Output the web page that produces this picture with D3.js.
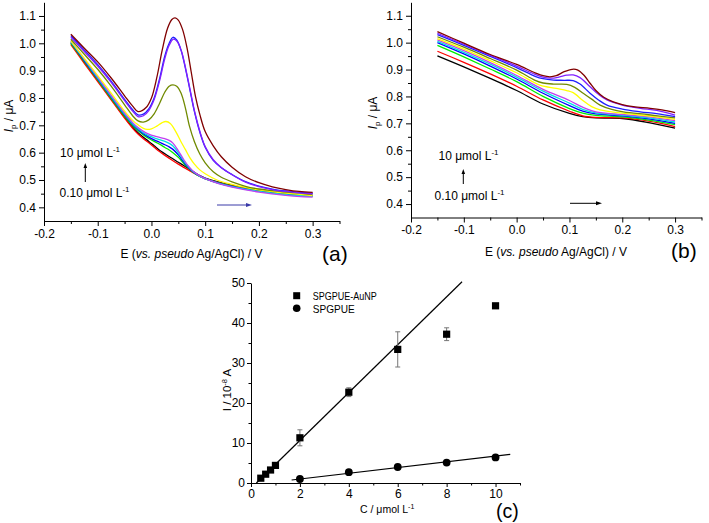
<!DOCTYPE html>
<html><head><meta charset="utf-8">
<script src="https://cdn.jsdelivr.net/npm/d3@7"></script>
<style>body{margin:0;background:#fff}svg{display:block}</style>
</head><body>
<svg id="chart" width="709" height="523"></svg>
<script>
// ---------------- DATA ----------------
const curveColors = ["#000000","#ff0000","#00ee00","#0000ff","#00e0e0","#c040f0","#ffff00","#708a00","#1f1fff","#8020ff","#800000"];
const concLabels = ["10 μmol L", "0.10 μmol L"];

// Panel (a): SPGPUE-AuNP DPV curves [E (V), I (μA)]
const aBlack = [[-0.15,1.0],[-0.125,0.932],[-0.1,0.864],[-0.075,0.797],[-0.05,0.73],[-0.035,0.693],[-0.025,0.673],[-0.015,0.656],[-0.005,0.641],[0.005,0.625],[0.015,0.609],[0.025,0.596],[0.035,0.583],[0.05,0.565],[0.06,0.553],[0.07,0.54],[0.08,0.528],[0.09,0.516],[0.1,0.507],[0.125,0.492],[0.15,0.48],[0.2,0.462],[0.25,0.45],[0.3,0.445]];
const aRed = [[-0.15,0.995],[-0.125,0.927],[-0.1,0.86],[-0.075,0.793],[-0.05,0.726],[-0.035,0.689],[-0.025,0.668],[-0.015,0.651],[-0.005,0.636],[0.005,0.62],[0.015,0.604],[0.025,0.59],[0.035,0.577],[0.05,0.558],[0.06,0.546],[0.07,0.535],[0.08,0.524],[0.09,0.514],[0.1,0.505],[0.125,0.49],[0.15,0.478],[0.2,0.461],[0.25,0.449],[0.3,0.443]];
const aGreen = [[-0.15,1.0],[-0.125,0.933],[-0.1,0.866],[-0.075,0.799],[-0.05,0.734],[-0.035,0.699],[-0.025,0.681],[-0.015,0.665],[-0.005,0.652],[0.005,0.641],[0.015,0.631],[0.025,0.619],[0.033,0.61],[0.04,0.6],[0.05,0.583],[0.06,0.561],[0.07,0.541],[0.08,0.525],[0.09,0.513],[0.1,0.504],[0.125,0.489],[0.15,0.477],[0.2,0.46],[0.25,0.448],[0.3,0.442]];
const aBlue = [[-0.15,1.004],[-0.125,0.937],[-0.1,0.87],[-0.075,0.803],[-0.05,0.738],[-0.035,0.703],[-0.025,0.685],[-0.015,0.669],[-0.005,0.657],[0.005,0.647],[0.015,0.638],[0.025,0.629],[0.033,0.621],[0.04,0.612],[0.05,0.592],[0.06,0.566],[0.07,0.543],[0.08,0.526],[0.09,0.514],[0.1,0.505],[0.125,0.489],[0.15,0.477],[0.2,0.459],[0.25,0.447],[0.3,0.441]];
const aCyan = [[-0.15,1.006],[-0.125,0.94],[-0.1,0.873],[-0.075,0.806],[-0.05,0.741],[-0.035,0.706],[-0.025,0.688],[-0.015,0.673],[-0.005,0.662],[0.005,0.654],[0.015,0.648],[0.025,0.641],[0.033,0.634],[0.04,0.624],[0.05,0.6],[0.06,0.571],[0.07,0.546],[0.08,0.527],[0.09,0.514],[0.1,0.505],[0.125,0.488],[0.15,0.476],[0.2,0.458],[0.25,0.446],[0.3,0.44]];
const aMagenta = [[-0.15,1.01],[-0.125,0.943],[-0.1,0.877],[-0.075,0.81],[-0.05,0.745],[-0.035,0.71],[-0.025,0.692],[-0.015,0.678],[-0.005,0.668],[0.005,0.661],[0.015,0.656],[0.025,0.651],[0.033,0.645],[0.04,0.635],[0.05,0.607],[0.06,0.575],[0.07,0.548],[0.08,0.528],[0.09,0.515],[0.1,0.505],[0.125,0.487],[0.15,0.474],[0.2,0.456],[0.25,0.444],[0.3,0.437]];
const aYellow = [[-0.15,1.008],[-0.125,0.945],[-0.1,0.882],[-0.075,0.818],[-0.05,0.752],[-0.035,0.718],[-0.025,0.702],[-0.015,0.689],[-0.008,0.685],[0.0,0.687],[0.01,0.697],[0.02,0.71],[0.027,0.714],[0.035,0.707],[0.045,0.678],[0.055,0.64],[0.063,0.612],[0.072,0.58],[0.08,0.558],[0.09,0.537],[0.1,0.523],[0.122,0.5],[0.15,0.484],[0.177,0.472],[0.2,0.464],[0.25,0.452],[0.3,0.443]];
const aOlive = [[-0.15,1.015],[-0.125,0.96],[-0.1,0.905],[-0.075,0.843],[-0.05,0.775],[-0.035,0.735],[-0.025,0.716],[-0.015,0.712],[-0.005,0.72],[0.005,0.742],[0.015,0.78],[0.025,0.822],[0.033,0.843],[0.04,0.848],[0.047,0.843],[0.055,0.818],[0.063,0.765],[0.071,0.695],[0.08,0.64],[0.09,0.595],[0.1,0.563],[0.115,0.53],[0.13,0.51],[0.15,0.493],[0.175,0.477],[0.2,0.467],[0.225,0.461],[0.25,0.456],[0.275,0.453],[0.3,0.45]];
const aNavy = [[-0.15,1.028],[-0.125,0.975],[-0.1,0.922],[-0.075,0.862],[-0.05,0.795],[-0.035,0.757],[-0.025,0.738],[-0.015,0.741],[-0.005,0.76],[0.005,0.8],[0.015,0.87],[0.025,0.955],[0.033,1.0],[0.04,1.022],[0.047,1.012],[0.055,0.975],[0.063,0.91],[0.071,0.835],[0.08,0.75],[0.09,0.675],[0.1,0.62],[0.115,0.572],[0.13,0.545],[0.15,0.52],[0.175,0.494],[0.2,0.478],[0.225,0.467],[0.25,0.46],[0.275,0.455],[0.3,0.452]];
const aPurple = [[-0.15,1.022],[-0.125,0.97],[-0.1,0.917],[-0.075,0.857],[-0.05,0.79],[-0.035,0.752],[-0.025,0.732],[-0.015,0.735],[-0.005,0.754],[0.005,0.794],[0.015,0.862],[0.025,0.945],[0.033,0.993],[0.041,1.015],[0.048,1.006],[0.056,0.97],[0.064,0.905],[0.072,0.83],[0.081,0.745],[0.091,0.672],[0.1,0.622],[0.115,0.574],[0.13,0.546],[0.15,0.519],[0.175,0.492],[0.2,0.476],[0.225,0.465],[0.25,0.458],[0.275,0.453],[0.3,0.45]];
const aWine = [[-0.15,1.033],[-0.125,0.982],[-0.1,0.932],[-0.075,0.873],[-0.05,0.808],[-0.035,0.77],[-0.025,0.75],[-0.01,0.765],[0.0,0.8],[0.01,0.875],[0.02,0.975],[0.03,1.055],[0.038,1.087],[0.044,1.093],[0.05,1.085],[0.058,1.05],[0.066,0.985],[0.074,0.895],[0.082,0.805],[0.09,0.74],[0.1,0.677],[0.115,0.625],[0.13,0.585],[0.15,0.547],[0.175,0.512],[0.2,0.49],[0.225,0.475],[0.25,0.465],[0.275,0.458],[0.3,0.455]];

// Panel (b): SPGPUE DPV curves [E (V), I (μA)]
const bBlack = [[-0.15,0.951],[-0.1,0.91],[-0.05,0.867],[0,0.822],[0.05,0.772],[0.1,0.737],[0.125,0.725],[0.15,0.72],[0.2,0.718],[0.25,0.703],[0.3,0.682]];
const bRed = [[-0.15,0.968],[-0.1,0.927],[-0.05,0.884],[0,0.838],[0.05,0.787],[0.1,0.745],[0.125,0.728],[0.15,0.722],[0.2,0.72],[0.25,0.708],[0.3,0.688]];
const bGreen = [[-0.15,0.99],[-0.1,0.947],[-0.05,0.902],[0,0.855],[0.05,0.8],[0.1,0.755],[0.125,0.738],[0.15,0.73],[0.2,0.724],[0.25,0.712],[0.3,0.695]];
const bBlue = [[-0.15,1.0],[-0.1,0.958],[-0.05,0.913],[0,0.865],[0.05,0.812],[0.1,0.766],[0.125,0.745],[0.15,0.735],[0.2,0.728],[0.25,0.717],[0.3,0.7]];
const bCyan = [[-0.15,1.005],[-0.1,0.964],[-0.05,0.92],[0,0.872],[0.05,0.82],[0.1,0.775],[0.125,0.752],[0.15,0.739],[0.2,0.731],[0.25,0.72],[0.3,0.705]];
const bMagenta = [[-0.15,1.01],[-0.1,0.97],[-0.05,0.926],[0,0.878],[0.05,0.826],[0.1,0.785],[0.125,0.76],[0.15,0.743],[0.2,0.733],[0.25,0.724],[0.3,0.71]];
const bYellow = [[-0.15,1.015],[-0.1,0.976],[-0.05,0.933],[0,0.888],[0.044,0.842],[0.075,0.83],[0.095,0.822],[0.107,0.814],[0.126,0.784],[0.142,0.762],[0.158,0.75],[0.2,0.738],[0.234,0.731],[0.3,0.715]];
const bOlive = [[-0.15,1.022],[-0.1,0.983],[-0.05,0.941],[0,0.898],[0.035,0.86],[0.05,0.85],[0.07,0.846],[0.095,0.845],[0.11,0.834],[0.126,0.812],[0.142,0.79],[0.158,0.768],[0.18,0.752],[0.202,0.743],[0.25,0.732],[0.3,0.72]];
const bNavy = [[-0.15,1.03],[-0.1,0.99],[-0.05,0.949],[0,0.907],[0.035,0.875],[0.05,0.866],[0.07,0.861],[0.09,0.86],[0.107,0.859],[0.12,0.846],[0.139,0.812],[0.155,0.787],[0.171,0.768],[0.2,0.753],[0.234,0.743],[0.265,0.736],[0.3,0.725]];
const bPurple = [[-0.15,1.035],[-0.1,0.994],[-0.05,0.953],[0,0.913],[0.035,0.882],[0.05,0.872],[0.065,0.868],[0.08,0.872],[0.095,0.879],[0.107,0.88],[0.12,0.87],[0.139,0.836],[0.155,0.808],[0.171,0.787],[0.2,0.768],[0.234,0.756],[0.265,0.748],[0.3,0.731]];
const bWine = [[-0.15,1.041],[-0.1,0.998],[-0.05,0.956],[0,0.919],[0.035,0.888],[0.05,0.877],[0.063,0.873],[0.075,0.877],[0.09,0.892],[0.105,0.901],[0.115,0.899],[0.128,0.878],[0.139,0.849],[0.15,0.822],[0.165,0.797],[0.183,0.78],[0.2,0.77],[0.221,0.762],[0.253,0.756],[0.275,0.75],[0.3,0.74]];

// Panel (c): calibration
const cConcAu = [0.4,0.6,0.8,1,2,4,6,8,10];
const cCurAu = [1.2,2.2,3.25,4.4,11.3,22.7,33.4,37.2,44.3];
const cErrAu = [0.3,0.3,0.3,0.4,2.0,1.1,4.4,1.6,0.4];
const cConcBare = [2,4,6,8,10];
const cCurBare = [1.0,2.7,4.0,5.1,6.4];
const cFitAu = [[0.22,0],[8.63,50.3]];
const cFitBare = [[1.66,0.75],[10.6,7.17]];
const legendNames = ["SPGPUE-AuNP","SPGPUE"];

// Axis ticks
const eMajor = [-0.2,-0.1,0.0,0.1,0.2,0.3];
const eMinor = [-0.15,-0.05,0.05,0.15,0.25,0.35];
const iMajor = [0.4,0.5,0.6,0.7,0.8,0.9,1.0,1.1];
const iMinor = [0.45,0.55,0.65,0.75,0.85,0.95,1.05];
const cxMajor = [0,2,4,6,8,10];
const cxMinor = [1,3,5,7,9,11];
const cyMajor = [0,10,20,30,40,50];
const cyMinor = [5,15,25,35,45];

// ---------------- DRAW ----------------
const FONT = '"Liberation Sans", Arial, Helvetica, sans-serif';
const svg = d3.select("#chart");
svg.append("rect").attr("width",709).attr("height",523).attr("fill","#fff");
const fmt1 = d => d3.format(".1f")(d).replace("\u2212","-");

function axes(g, scale, orient, major, minor, fmt, majLen, minLen, pad, fs) {
  const mk = orient === "bottom" ? d3.axisBottom : d3.axisLeft;
  g.append("g").call(mk(scale).tickValues(major).tickSize(majLen).tickPadding(pad).tickSizeOuter(0).tickFormat(fmt));
  const gn = g.append("g").call(mk(scale).tickValues(minor).tickSize(minLen).tickFormat(""));
  gn.select(".domain").remove();
  g.selectAll("g").attr("font-family", FONT).attr("font-size", fs);
  g.selectAll("line,path").attr("stroke","#000").attr("stroke-width",1);
  g.selectAll("text").attr("fill","#000");
}

function arrowV(x, y1, y2, color) {
  svg.append("line").attr("x1",x).attr("x2",x).attr("y1",y1).attr("y2",y2+3).attr("stroke",color).attr("stroke-width",1);
  svg.append("path").attr("d",`M${x},${y2} L${x-1.8},${y2+5} L${x+1.8},${y2+5} Z`).attr("fill",color);
}
function arrowH(x1, x2, y, color) {
  svg.append("line").attr("x1",x1).attr("x2",x2-3).attr("y1",y).attr("y2",y).attr("stroke",color).attr("stroke-width",1);
  svg.append("path").attr("d",`M${x2},${y} L${x2-6},${y-2} L${x2-6},${y+2} Z`).attr("fill",color);
}
function concText(x, y, s) {
  const t = svg.append("text").attr("x",x).attr("y",y).attr("font-family",FONT).attr("font-size",12).attr("fill","#000");
  t.append("tspan").text(s);
  t.append("tspan").attr("font-size",8).attr("dy",-5).text("-1");
}
function eLabel(cx, y) {
  const t = svg.append("text").attr("x",cx).attr("y",y).attr("text-anchor","middle").attr("font-family",FONT).attr("font-size",12).attr("fill","#000");
  t.append("tspan").text("E (");
  t.append("tspan").attr("font-style","italic").text("vs. pseudo");
  t.append("tspan").text(" Ag/AgCl) / V");
}
function ipLabel(x, cy) {
  const t = svg.append("text").attr("transform",`translate(${x},${cy}) rotate(-90)`).attr("text-anchor","middle").attr("font-family",FONT).attr("font-size",12).attr("fill","#000");
  t.append("tspan").attr("font-style","italic").text("I");
  t.append("tspan").attr("font-size",8).attr("dy",3).text("p");
  t.append("tspan").attr("dy",-3).text(" / μA");
}
function panelLetter(x, y, s, fs) {
  svg.append("text").attr("x",x).attr("y",y).attr("font-family",FONT).attr("font-size",fs).attr("fill","#000").text(s);
}

function dpvPanel(curves, xr, yr) {
  const x = d3.scaleLinear([-0.2,0.35], xr);
  const y = d3.scaleLinear([0.35,1.15], yr);
  const line = d3.line().x(d=>x(d[0])).y(d=>y(d[1])).curve(d3.curveCatmullRom.alpha(0.5));
  const g = svg.append("g");
  curves.forEach((c,i) => {
    g.append("path").attr("d", line(c)).attr("fill","none").attr("stroke", curveColors[i]).attr("stroke-width",1.3);
  });
  axes(svg.append("g").attr("transform",`translate(0,${yr[0]})`), x, "bottom", eMajor, eMinor, fmt1, 5, 3, 3, 12);
  axes(svg.append("g").attr("transform",`translate(${xr[0]},0)`), y, "left", iMajor, iMinor, fmt1, 5, 3, 3, 12);
}

// Panel (a)
dpvPanel([aBlack,aRed,aGreen,aBlue,aCyan,aMagenta,aYellow,aOlive,aNavy,aPurple,aWine], [44,339.5], [221,2.3]);
eLabel(191.5, 258);
ipLabel(12.5, 116);
concText(60, 157, concLabels[0]);
concText(59.5, 197, concLabels[1]);
arrowV(85.3, 182, 163, "#000");
arrowH(217, 252, 205, "#3a3aa8");
panelLetter(322, 260.5, "(a)", 21);

// Panel (b)
dpvPanel([bBlack,bRed,bGreen,bBlue,bCyan,bMagenta,bYellow,bOlive,bNavy,bPurple,bWine], [411,701.5], [217.5,2.3]);
eLabel(556, 256);
ipLabel(377, 113);
concText(438.5, 160, concLabels[0]);
concText(434.5, 200, concLabels[1]);
arrowV(463.3, 184, 169, "#000");
arrowH(570, 602, 203.3, "#000");
panelLetter(671, 258, "(b)", 21);

// Panel (c)
const cx = d3.scaleLinear([0,11],[251,520]);
const cy = d3.scaleLinear([0,50],[483,283]);
const fitLine = d3.line().x(d=>cx(d[0])).y(d=>cy(d[1]));
svg.append("path").attr("d", fitLine(cFitAu)).attr("stroke","#000").attr("stroke-width",1.2).attr("fill","none");
svg.append("path").attr("d", fitLine(cFitBare)).attr("stroke","#000").attr("stroke-width",1.2).attr("fill","none");
cConcAu.forEach((c,i) => {
  const e = cErrAu[i], X = cx(c);
  const g = svg.append("g").attr("stroke","#777").attr("stroke-width",1);
  g.append("line").attr("x1",X).attr("x2",X).attr("y1",cy(cCurAu[i]-e)).attr("y2",cy(cCurAu[i]+e));
  g.append("line").attr("x1",X-2.5).attr("x2",X+2.5).attr("y1",cy(cCurAu[i]-e)).attr("y2",cy(cCurAu[i]-e));
  g.append("line").attr("x1",X-2.5).attr("x2",X+2.5).attr("y1",cy(cCurAu[i]+e)).attr("y2",cy(cCurAu[i]+e));
});
svg.append("g").selectAll("rect").data(cConcAu).join("rect")
  .attr("x",(d)=>cx(d)-3.6).attr("y",(d,i)=>cy(cCurAu[i])-3.6).attr("width",7.2).attr("height",7.2).attr("fill","#000");
svg.append("g").selectAll("circle").data(cConcBare).join("circle")
  .attr("cx",d=>cx(d)).attr("cy",(d,i)=>cy(cCurBare[i])).attr("r",3.9).attr("fill","#000");
axes(svg.append("g").attr("transform","translate(0,483)"), cx, "bottom", cxMajor, cxMinor, d=>d, 4, 2.5, 2.5, 12);
axes(svg.append("g").attr("transform","translate(251,0)"), cy, "left", cyMajor, cyMinor, d=>d, 4, 2.5, 2, 12);
// legend
svg.append("rect").attr("x",293.2).attr("y",292.2).attr("width",7).attr("height",7).attr("fill","#000");
svg.append("circle").attr("cx",296.7).attr("cy",308.3).attr("r",3.8).attr("fill","#000");
svg.append("text").attr("x",312.7).attr("y",300).attr("font-family",FONT).attr("font-size",11)
  .attr("textLength",64).attr("lengthAdjust","spacingAndGlyphs").attr("fill","#000").text(legendNames[0]);
svg.append("text").attr("x",312.7).attr("y",312.5).attr("font-family",FONT).attr("font-size",11)
  .attr("textLength",42).attr("lengthAdjust","spacingAndGlyphs").attr("fill","#000").text(legendNames[1]);
// axis titles
{
  const t = svg.append("text").attr("x",360).attr("y",513).attr("font-family",FONT).attr("font-size",10.5).attr("fill","#000");
  t.append("tspan").text("C / μmol L");
  t.append("tspan").attr("font-size",7).attr("dy",-4.5).text("-1");
  const u = svg.append("text").attr("transform","translate(231,390) rotate(-90)").attr("text-anchor","middle").attr("font-family",FONT).attr("font-size",11.5).attr("fill","#000");
  u.append("tspan").text("I / 10");
  u.append("tspan").attr("font-size",7.5).attr("dy",-4.5).text("-8");
  u.append("tspan").attr("dy",4.5).text(" A");
}
panelLetter(496, 518, "(c)", 19.5);
</script>
</body></html>
